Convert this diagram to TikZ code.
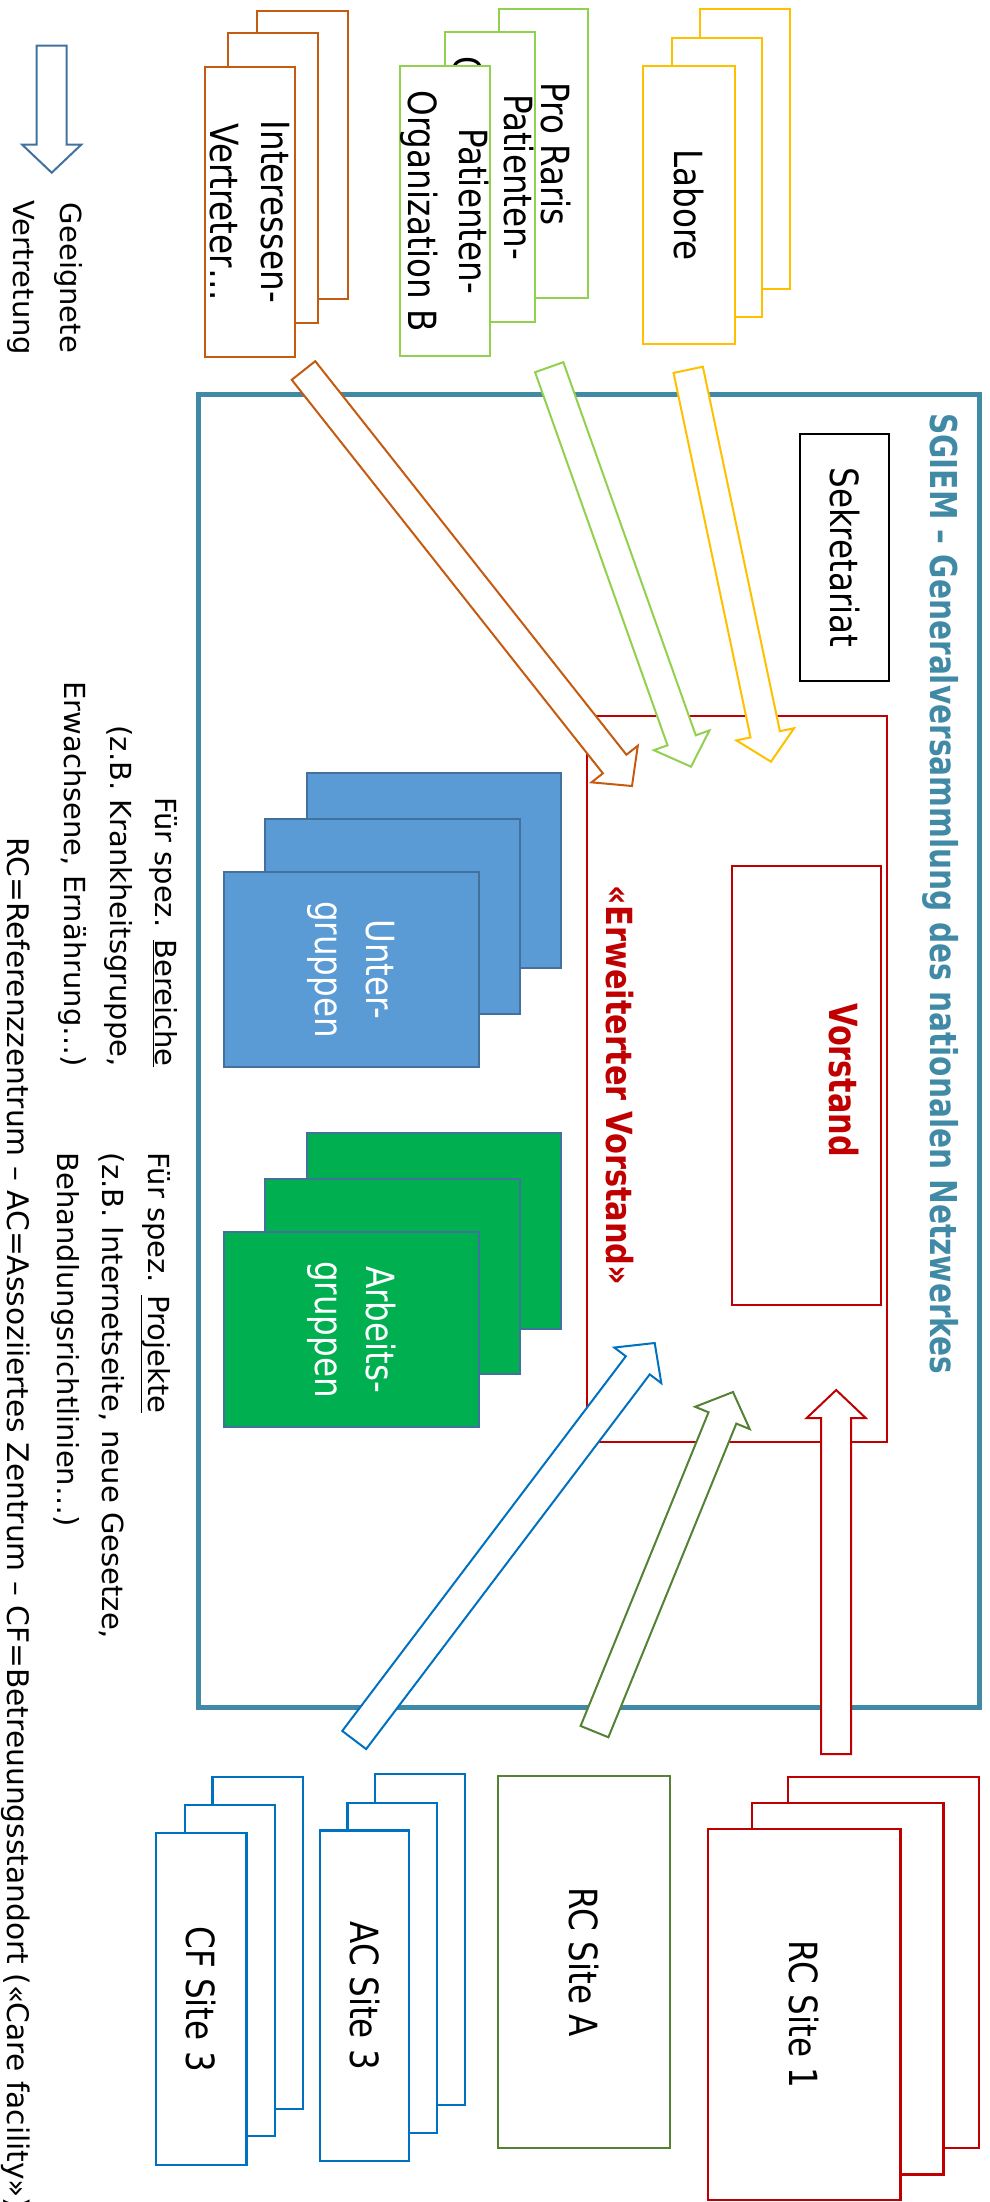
\documentclass[tikz,border=0pt]{standalone}
\usepackage{fontspec}
\setmainfont{DejaVu Sans}
\newfontfamily\dvsc[FakeStretch=0.84]{DejaVu Sans}
\newfontfamily\dvsv[FakeStretch=0.78]{DejaVu Sans}
\newfontfamily\dvst[FakeStretch=0.80]{DejaVu Sans}
\newfontfamily\dvse[FakeStretch=0.845]{DejaVu Sans}
\usetikzlibrary{calc}
\definecolor{sgteal}{HTML}{418AA6}
\definecolor{orng}{HTML}{C55A11}
\definecolor{lgrn}{HTML}{92D050}
\definecolor{yel}{HTML}{FFC000}
\definecolor{dred}{HTML}{C00000}
\definecolor{bblue}{HTML}{0070C0}
\definecolor{dgrn}{HTML}{548235}
\definecolor{gblue}{HTML}{5B9BD5}
\definecolor{gbord}{HTML}{41719C}
\definecolor{ggrn}{HTML}{00B050}
\newcommand\bxfont{\dvsc\fontsize{38.8}{51}\selectfont}
\newcommand\smfont{\fontsize{29}{45.5}\selectfont}
% name, style, x1, y1, x2, y2, text  (image pixel coordinates, text rotated)
\newcommand\rbox[7]{\node[#2, rotate=-90, minimum width={(#6)-(#4)}, minimum height={(#5)-(#3)}] (#1) at ({((#3)+(#5))/2},{((#4)+(#6))/2}) {#7};}
% block arrow: colour, tail coordinate, tip coordinate
\newcommand\barrow[3]{%
  \coordinate (#2-h) at ($(#3)!28pt!(#2)$);
  \draw[arr=#1] ($(#2)!15pt!90:(#3)$) -- ($(#2-h)!15pt!-90:(#2)$) -- ($(#2-h)!29.5pt!-90:(#2)$) -- (#3)
    -- ($(#2-h)!29.5pt!90:(#2)$) -- ($(#2-h)!15pt!90:(#2)$) -- ($(#2)!15pt!-90:(#3)$) -- cycle;}
\begin{document}
\begin{tikzpicture}[x=1pt,y=-1pt,
  bx/.style={draw=#1, fill=white, line width=2.5pt, inner sep=0pt, outer sep=0pt, align=center, font=\bxfont},
  grp/.style={draw=gbord, fill=#1, line width=2.5pt, inner sep=0pt, outer sep=0pt, align=center, font=\bxfont, text=white},
  txt/.style={rotate=-90, inner sep=0pt, align=center},
  arr/.style={draw=#1, fill=white, line width=2pt, line join=miter}]
\useasboundingbox (0,0) rectangle (989,2202);
\clip (0,0) rectangle (989,2202);

% main frame
\rbox{gv}{draw=sgteal, line width=5pt, inner sep=0pt, outer sep=0pt}{198}{394}{979}{1707}{}
\node[txt, anchor=west, text=sgteal, font=\dvst\fontsize{37}{45}\selectfont\bfseries] (title) at (941,413)
  {SGIEM – Generalversammlung des nationalen Netzwerkes};

% Sekretariat
\rbox{sek}{bx=black}{800}{434}{889}{681}{Sekretariat}

% Erweiterter Vorstand / Vorstand
\rbox{erw}{bx=dred}{587}{716}{887}{1442}{}
\rbox{vor}{bx=dred}{732}{866}{881}{1305}{}
\node[txt, text=dred, font=\dvsv\fontsize{38.8}{50}\selectfont\bfseries] (vortxt) at (844,1080) {Vorstand};
\node[txt, text=dred, font=\dvse\fontsize{36}{50}\selectfont\bfseries] (erwtxt) at (620,1085.5) {«Erweiterter Vorstand»};

% Untergruppen
\rbox{ug3}{grp=gblue}{307}{773}{561}{968}{}
\rbox{ug2}{grp=gblue}{265}{819}{520}{1014}{}
\rbox{ug1}{grp=gblue}{224}{872}{479}{1067}{Unter-\\gruppen}
% Arbeitsgruppen
\rbox{ag3}{grp=ggrn}{307}{1133}{561}{1329}{}
\rbox{ag2}{grp=ggrn}{265}{1179}{520}{1374}{}
\rbox{ag1}{grp=ggrn}{224}{1232}{479}{1427}{Arbeits-\\gruppen}

% notes
\node[txt, anchor=east, align=right, font=\smfont] (notb) at (118,1067)
  {Für spez. \underline{Bereiche}\\(z.B. Krankheitsgruppe,\\Erwachsene, Ernährung…)};
\node[txt, anchor=west, align=left, font=\smfont] (notp) at (111,1152.5)
  {Für spez. \underline{Projekte}\\(z.B. Internetseite, neue Gesetze,\\Behandlungsrichtlinien…)};
\node[txt, anchor=west, font=\fontsize{29.7}{45.5}\selectfont] (foot) at (16,837)
  {RC=Referenzzentrum – AC=Assoziiertes Zentrum – CF=Betreuungsstandort («Care facility»)};

% legend
\coordinate (lgT) at (51.7,45.7);
\coordinate (lgP) at (51.7,172.7);
\barrow{gbord}{lgT}{lgP}
\node[txt, font=\fontsize{29}{46.5}\selectfont] (lgtxt) at (45,278) {Geeignete\\Vertretung};

% top stacks
\rbox{iv3}{bx=orng}{257}{11}{348}{299}{}
\rbox{iv2}{bx=orng}{228}{33}{318}{323}{}
\rbox{iv1}{bx=orng}{205}{67}{295}{357}{Interessen-\\Vertreter…}

\rbox{pr3}{bx=lgrn}{499}{9}{588}{298}{}
\node[txt, font=\bxfont] (pr3t) at (556,154) {Pro Raris};
\rbox{pr2}{bx=lgrn}{445}{32}{535}{322}{Patienten-\\Organization A}
\rbox{pr1}{bx=lgrn}{400}{66}{490}{356}{Patienten-\\Organization B}

\rbox{lb3}{bx=yel}{700}{9}{790}{289}{}
\rbox{lb2}{bx=yel}{672}{38}{762}{317}{}
\rbox{lb1}{bx=yel}{643}{66}{735}{344}{Labore}

% bottom stacks
\rbox{rc3}{bx=dred}{788}{1777}{979}{2148}{}
\rbox{rc2}{bx=dred}{752}{1803}{943.5}{2174.5}{}
\rbox{rc1}{bx=dred}{708}{1829}{900.6}{2200}{RC Site 1}

\rbox{rca}{bx=dgrn}{498}{1776}{670}{2148}{RC Site A}

\rbox{ac3}{bx=bblue}{375}{1774}{465}{2105}{}
\rbox{ac2}{bx=bblue}{347.5}{1803}{437}{2133}{}
\rbox{ac1}{bx=bblue}{320}{1830.6}{409}{2161}{AC Site 3}

\rbox{cf3}{bx=bblue}{212.5}{1777}{303}{2109}{}
\rbox{cf2}{bx=bblue}{185}{1805}{275}{2136}{}
\rbox{cf1}{bx=bblue}{156}{1833}{246.6}{2165}{CF Site 3}

% arrows
\coordinate (oT) at (303.5,370.5);   \coordinate (oP) at (632,786);
\coordinate (gT) at (549.2,367.2);   \coordinate (gP) at (691,766.7);
\coordinate (yT) at (688.2,369.8);   \coordinate (yP) at (771,761.7);
\coordinate (bT) at (354.2,1740);    \coordinate (bP) at (654.7,1343);
\coordinate (dT) at (594.5,1731.6);  \coordinate (dP) at (733,1392);
\coordinate (rT) at (836.2,1754);    \coordinate (rP) at (836.2,1390);
\barrow{orng}{oT}{oP}
\barrow{lgrn}{gT}{gP}
\barrow{yel}{yT}{yP}
\barrow{bblue}{bT}{bP}
\barrow{dgrn}{dT}{dP}
\barrow{dred}{rT}{rP}
\end{tikzpicture}
\end{document}
